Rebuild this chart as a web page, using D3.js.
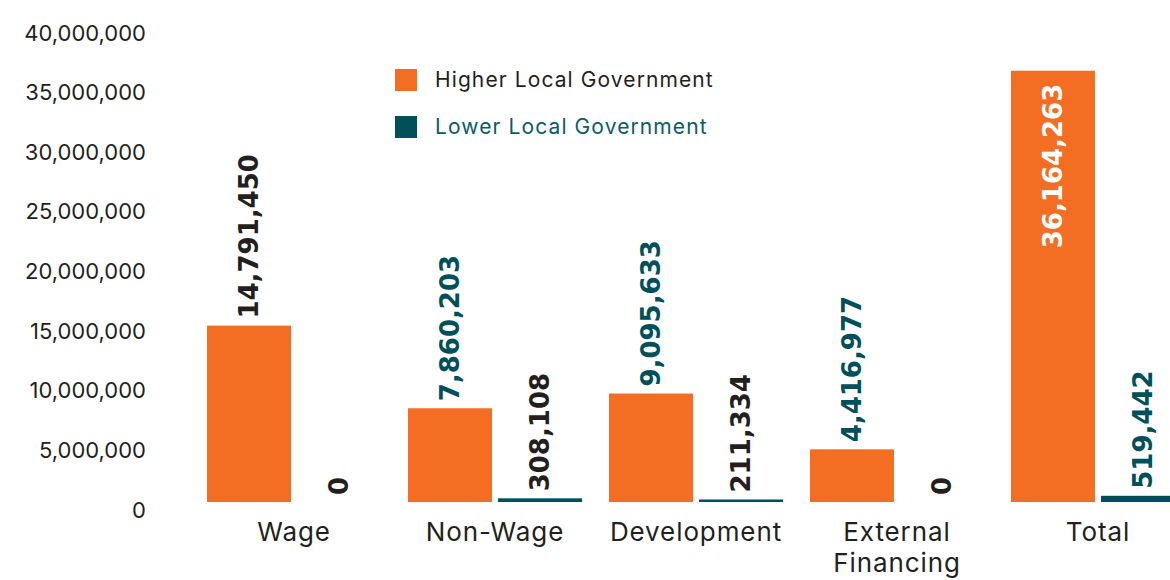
<!DOCTYPE html>
<html>
<head>
<meta charset="utf-8">
<script src="https://cdn.jsdelivr.net/npm/d3@7"></script>
<style>
  html, body { margin: 0; padding: 0; background: #ffffff; }
  svg { display: block; }
  text { font-family: Inter, "Noto Sans", sans-serif; }
</style>
</head>
<body>
<svg id="chart" width="1170" height="580"></svg>
<script>
// ---- data ----
const categories = ["Wage", "Non-Wage", "Development", "External Financing", "Total"];
const seriesNames = ["Higher Local Government", "Lower Local Government"];
const higherValues = [14791450, 7860203, 9095633, 4416977, 36164263];
const lowerValues = [0, 308108, 211334, 0, 519442];
const yTickValues = [0, 5000000, 10000000, 15000000, 20000000, 25000000, 30000000, 35000000, 40000000];

// ---- style ----
const ORANGE = "#F36E22";
const TEAL = "#00505B";
const DARK = "#231F20";
const seriesColors = [ORANGE, TEAL];
const legendTextColors = [DARK, "#0B5A66"];
// value-label colours as printed in the source, per series then category
const valueLabelColors = [
  [DARK, TEAL, TEAL, TEAL, "#ffffff"],
  [DARK, DARK, DARK, DARK, TEAL]
];

const svg = d3.select("#chart");

const y = d3.scaleLinear().domain([0, 40000000]).range([502, 25]);
const x0 = d3.scaleBand().domain(categories).range([207, 1185]).paddingInner(0.134).paddingOuter(0);
const x1 = d3.scaleBand().domain(seriesNames).range([0, x0.bandwidth()]).paddingInner(0.0667);

const fmt = d3.format(",");

// y axis (labels only)
const yAxis = d3.axisLeft(y).tickValues(yTickValues).tickFormat(fmt).tickSize(0).tickPadding(0);
const yg = svg.append("g").attr("transform", "translate(146,8)").call(yAxis);
yg.select(".domain").remove();
yg.selectAll("text")
  .attr("fill", DARK)
  .style("font-family", "Inter, sans-serif")
  .style("font-size", "22px");

// bars
const rows = categories.map((c, i) => ({ cat: c, i, vals: [higherValues[i], lowerValues[i]] }));
const groups = svg.append("g").selectAll("g.grp").data(rows).join("g")
  .attr("class", "grp")
  .attr("transform", d => `translate(${x0(d.cat)},0)`);

groups.selectAll("rect").data(d => d.vals.map((v, s) => ({ v, s, i: d.i })))
  .join("rect")
  .attr("x", d => x1(seriesNames[d.s]))
  .attr("width", x1.bandwidth())
  .attr("y", d => y(d.v))
  .attr("height", d => y(0) - y(d.v))
  .attr("fill", d => seriesColors[d.s]);

// value labels (rotated)
groups.selectAll("text.val").data(d => d.vals.map((v, s) => ({ v, s, i: d.i })))
  .join("text")
  .attr("class", "val")
  .each(function(d) {
    const inside = d.v > y.domain()[1] * 0.75;
    const cx = x1(seriesNames[d.s]) + x1.bandwidth() / 2;
    const ty = inside ? y(d.v) + 13 : y(d.v) - 7;
    d3.select(this)
      .attr("transform", `translate(${cx},${ty}) rotate(-90)`)
      .attr("text-anchor", inside ? "end" : "start")
      .attr("dy", "0.36em")
      .attr("fill", valueLabelColors[d.s][d.i])
      .style("font-family", "'DejaVu Sans', sans-serif")
      .style("font-weight", "bold")
      .style("font-size", "26px")
      .text(fmt(d.v));
  });

// category labels
const xl = svg.append("g");
categories.forEach(c => {
  const words = c.split(" ");
  const cx = x0(c) + x0.bandwidth() / 2;
  const t = xl.append("text")
    .attr("x", cx)
    .attr("y", 541)
    .attr("text-anchor", "middle")
    .attr("fill", DARK)
    .style("font-size", "26px")
    .style("letter-spacing", "0.9px");
  words.forEach((w, k) => {
    t.append("tspan").attr("x", cx).attr("dy", k === 0 ? 0 : 31).text(w);
  });
});

// legend
const lg = svg.append("g").attr("transform", "translate(395,69)");
seriesNames.forEach((s, k) => {
  const g = lg.append("g").attr("transform", `translate(0,${k * 47})`);
  g.append("rect").attr("width", 22).attr("height", 22).attr("fill", seriesColors[k]);
  g.append("text").attr("x", 40).attr("y", 11).attr("dy", "0.35em")
    .attr("fill", legendTextColors[k])
    .style("font-size", "21px")
    .style("letter-spacing", "1.1px")
    .text(s);
});
</script>
</body>
</html>
